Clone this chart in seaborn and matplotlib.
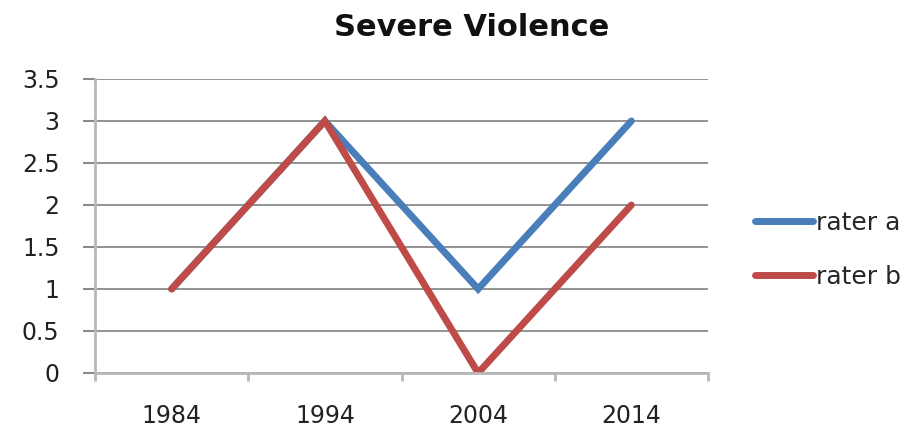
import matplotlib
matplotlib.use("Agg")
import matplotlib.pyplot as plt
import seaborn as sns
import pandas as pd
from matplotlib.ticker import FixedLocator

# data
years = ["1984", "1994", "2004", "2014"]
rater_a = [1, 3, 1, 3]
rater_b = [1, 3, 0, 2]
series_names = ["rater a", "rater b"]

df = pd.DataFrame({
    "year": years * 2,
    "score": rater_a + rater_b,
    "rater": [series_names[0]] * len(years) + [series_names[1]] * len(years),
})

sns.set_theme(style="white")
plt.rcParams["font.family"] = ["DejaVu Sans"]

fig = plt.figure(figsize=(9.21, 4.30), dpi=100)
ax = fig.add_axes([95 / 921, 1 - 373 / 430, (708 - 95) / 921, (373 - 79) / 430])

colors = {"rater a": "#4a7ebb", "rater b": "#be4b48"}
sns.lineplot(data=df, x="year", y="score", hue="rater", palette=colors,
             linewidth=5, sort=False, ax=ax, legend=True)
for line in ax.lines:
    line.set_solid_capstyle("round")
    line.set_solid_joinstyle("miter")

ax.set_xlim(-0.5, len(years) - 0.5)
ax.set_ylim(0, 3.5)
ax.set_yticks([0, 0.5, 1, 1.5, 2, 2.5, 3, 3.5])
ax.set_yticklabels(["0", "0.5", "1", "1.5", "2", "2.5", "3", "3.5"])
ax.set_xlabel("")
ax.set_ylabel("")

# horizontal gridlines
ax.yaxis.grid(True, color="#8a8a8a", linewidth=1.3)
ax.xaxis.grid(False)
ax.set_axisbelow(True)

for side in ["top", "right"]:
    ax.spines[side].set_visible(False)
ax.spines["left"].set_color("#b8b8b8")
ax.spines["left"].set_linewidth(2)
ax.spines["bottom"].set_color("#b8b8b8")
ax.spines["bottom"].set_linewidth(2)

ax.tick_params(axis="y", which="major", left=True, length=8.5, width=1.5,
               color="#8a8a8a", pad=17, labelsize=17, labelcolor="#222222")
ax.tick_params(axis="x", which="major", bottom=True, length=0, pad=22,
               labelsize=17, labelcolor="#222222")
ax.xaxis.set_minor_locator(FixedLocator([i - 0.5 for i in range(len(years) + 1)]))
ax.tick_params(axis="x", which="minor", bottom=True, length=6, width=2,
               color="#b8b8b8")

leg = ax.legend(loc="center left", bbox_to_anchor=(755 / 921, 1 - 250 / 430),
                bbox_transform=fig.transFigure, frameon=False, fontsize=18,
                handlelength=2.3, handletextpad=0.15, labelspacing=1.2,
                borderpad=0, borderaxespad=0)
for h in leg.get_lines():
    h.set_linewidth(5)
    h.set_solid_capstyle("round")

fig.text(472 / 921, 1 - 28 / 430, "Severe Violence", ha="center", va="center",
         fontsize=22, fontweight="bold", color="#111111")

fig.savefig("out.png", dpi=100)
